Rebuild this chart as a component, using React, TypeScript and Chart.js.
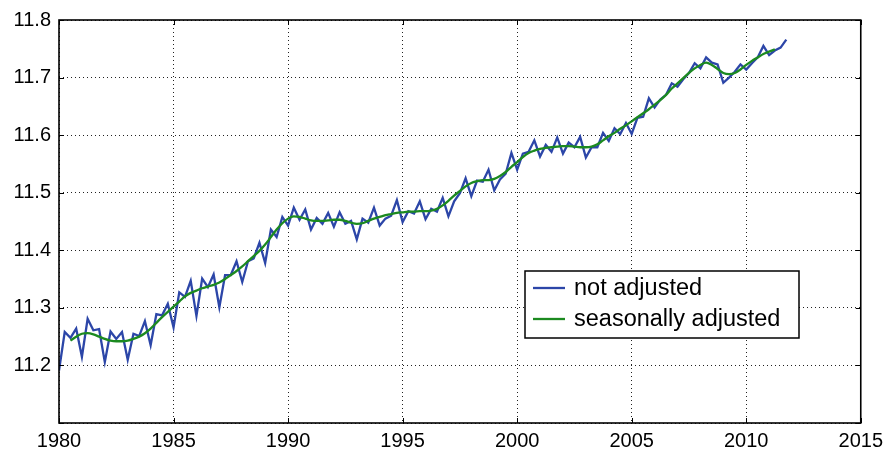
import React, { useEffect, useRef } from "react";
import { Chart, registerables } from "chart.js";

Chart.register(...registerables);

const START_YEAR = 1980;
const GREEN_START_YEAR = 1980.5;
const X_TICKS = [1980, 1985, 1990, 1995, 2000, 2005, 2010, 2015];
const Y_TICKS = [11.1, 11.2, 11.3, 11.4, 11.5, 11.6, 11.7, 11.8];

// quarterly, not adjusted (1980 Q1 .. 2011 Q4)
const notAdjusted = [
  11.191, 11.258, 11.248, 11.264,
  11.215, 11.281, 11.261, 11.263,
  11.206, 11.259, 11.246, 11.258,
  11.210, 11.255, 11.251, 11.277,
  11.235, 11.289, 11.287, 11.307,
  11.266, 11.327, 11.319, 11.347,
  11.286, 11.351, 11.336, 11.358,
  11.301, 11.357, 11.357, 11.381,
  11.345, 11.381, 11.386, 11.413,
  11.378, 11.436, 11.423, 11.458,
  11.443, 11.474, 11.453, 11.471,
  11.436, 11.456, 11.446, 11.465,
  11.441, 11.466, 11.446, 11.451,
  11.419, 11.455, 11.448, 11.474,
  11.443, 11.455, 11.460, 11.487,
  11.449, 11.468, 11.464, 11.485,
  11.454, 11.472, 11.467, 11.491,
  11.459, 11.485, 11.499, 11.525,
  11.494, 11.521, 11.519, 11.540,
  11.504, 11.523, 11.533, 11.569,
  11.540, 11.568, 11.571, 11.591,
  11.563, 11.583, 11.571, 11.596,
  11.568, 11.587, 11.579, 11.597,
  11.561, 11.579, 11.579, 11.604,
  11.590, 11.612, 11.602, 11.621,
  11.602, 11.630, 11.632, 11.664,
  11.648, 11.662, 11.670, 11.690,
  11.684, 11.697, 11.708, 11.725,
  11.716, 11.735, 11.726, 11.723,
  11.691, 11.700, 11.710, 11.723,
  11.714, 11.725, 11.735, 11.755,
  11.739, 11.747, 11.752, 11.766,
];

// quarterly, seasonally adjusted (1980 Q3 .. 2011 Q2)
const seasonallyAdjusted = [
  11.243, 11.250,
  11.255, 11.256, 11.254, 11.250,
  11.246, 11.243, 11.242, 11.242,
  11.243, 11.246, 11.250, 11.256,
  11.264, 11.274, 11.284, 11.293,
  11.302, 11.311, 11.320, 11.326,
  11.330, 11.334, 11.337, 11.340,
  11.344, 11.350, 11.357, 11.364,
  11.372, 11.381, 11.390, 11.399,
  11.410, 11.423, 11.436, 11.447,
  11.455, 11.459, 11.458, 11.455,
  11.452, 11.451, 11.451, 11.452,
  11.453, 11.453, 11.451, 11.448,
  11.446, 11.447, 11.451, 11.455,
  11.458, 11.461, 11.463, 11.465,
  11.466, 11.467, 11.467, 11.468,
  11.468, 11.469, 11.472, 11.478,
  11.486, 11.495, 11.503, 11.511,
  11.517, 11.520, 11.522, 11.522,
  11.524, 11.529, 11.536, 11.545,
  11.553, 11.562, 11.569, 11.573,
  11.576, 11.578, 11.579, 11.580,
  11.581, 11.581, 11.580, 11.579,
  11.579, 11.580, 11.584, 11.591,
  11.598, 11.604, 11.611, 11.617,
  11.624, 11.631, 11.638, 11.645,
  11.653, 11.661, 11.670, 11.681,
  11.690, 11.699, 11.708, 11.716,
  11.722, 11.726, 11.722, 11.715,
  11.708, 11.706, 11.708, 11.714,
  11.722, 11.729, 11.735, 11.741,
  11.745, 11.749,
];

const LABELS = ["not adjusted", "seasonally adjusted"];
const BLUE = "rgb(44,70,168)";
const GREEN = "rgb(28,138,32)";
const FONT = '"Liberation Sans", Arial, Helvetica, sans-serif';

const toPoints = (start: number, vals: number[]) =>
  vals.map((v, i) => ({ x: start + i * 0.25, y: v }));

const framePlugin = {
  id: "frameAndLegend",
  afterDatasetsDraw(chart: any) {
    const { ctx, chartArea: a, scales } = chart;
    const x = scales.x;
    const y = scales.y;
    ctx.save();
    // inward tick marks
    ctx.strokeStyle = "#000";
    ctx.lineWidth = 1;
    const tl = 5;
    X_TICKS.forEach((t) => {
      const px = Math.round(x.getPixelForValue(t)) + 0.5;
      ctx.beginPath();
      ctx.moveTo(px, a.bottom);
      ctx.lineTo(px, a.bottom - tl);
      ctx.moveTo(px, a.top);
      ctx.lineTo(px, a.top + tl);
      ctx.stroke();
    });
    Y_TICKS.forEach((t) => {
      const py = Math.round(y.getPixelForValue(t)) + 0.5;
      ctx.beginPath();
      ctx.moveTo(a.left, py);
      ctx.lineTo(a.left + tl, py);
      ctx.moveTo(a.right, py);
      ctx.lineTo(a.right - tl, py);
      ctx.stroke();
    });
    // frame
    ctx.lineWidth = 1.6;
    ctx.strokeRect(a.left, a.top, a.right - a.left, a.bottom - a.top);

    // legend box
    const lx = a.left + 466;
    const ly = a.top + 251;
    const lw = 274;
    const lh = 67;
    ctx.fillStyle = "#fff";
    ctx.fillRect(lx, ly, lw, lh);
    ctx.lineWidth = 1.5;
    ctx.strokeStyle = "#000";
    ctx.strokeRect(lx, ly, lw, lh);
    const rows = [
      { label: LABELS[0], color: BLUE, yy: ly + 17 },
      { label: LABELS[1], color: GREEN, yy: ly + 48 },
    ];
    ctx.font = "23.5px " + FONT;
    ctx.textBaseline = "middle";
    ctx.textAlign = "left";
    rows.forEach((r) => {
      ctx.strokeStyle = r.color;
      ctx.lineWidth = 2.3;
      ctx.beginPath();
      ctx.moveTo(lx + 8, r.yy);
      ctx.lineTo(lx + 40, r.yy);
      ctx.stroke();
      ctx.fillStyle = "#000";
      ctx.fillText(r.label, lx + 49, r.yy + 1);
    });
    ctx.restore();
  },
};

export default function App() {
  const ref = useRef<HTMLCanvasElement | null>(null);

  useEffect(() => {
    document.body.style.margin = "0";
    const canvas = ref.current;
    if (!canvas) return;
    const chart = new Chart(canvas, {
      type: "line",
      data: {
        datasets: [
          {
            label: LABELS[1],
            data: toPoints(GREEN_START_YEAR, seasonallyAdjusted),
            borderColor: GREEN,
            borderWidth: 2.3,
            pointRadius: 0,
            tension: 0.4,
            cubicInterpolationMode: "monotone",
            fill: false,
            order: 0,
          },
          {
            label: LABELS[0],
            data: toPoints(START_YEAR, notAdjusted),
            borderColor: BLUE,
            borderWidth: 2.3,
            pointRadius: 0,
            tension: 0,
            fill: false,
            order: 1,
          },
        ],
      },
      options: {
        responsive: false,
        animation: false,
        devicePixelRatio: 1,
        layout: { padding: { left: 0, top: 20, right: 26, bottom: 0 } },
        plugins: {
          legend: { display: false },
          tooltip: { enabled: false },
        },
        scales: {
          x: {
            type: "linear",
            min: 1980,
            max: 2015,
            afterFit: (s: any) => {
              s.height = 29;
            },
            afterBuildTicks: (s: any) => {
              s.ticks = X_TICKS.map((v) => ({ value: v }));
            },
            ticks: {
              color: "#000",
              font: { family: FONT, size: 20 },
              padding: 6,
              maxRotation: 0,
              callback: (v: any) => String(v),
            },
            grid: { color: "#222", lineWidth: 1, drawTicks: false },
            border: { display: false, dash: [1, 3] },
          },
          y: {
            type: "linear",
            min: 11.1,
            max: 11.8,
            afterFit: (s: any) => {
              s.width = 59;
            },
            afterBuildTicks: (s: any) => {
              s.ticks = Y_TICKS.map((v) => ({ value: v }));
            },
            ticks: {
              color: "#000",
              font: { family: FONT, size: 20 },
              padding: 8,
              callback: (v: any) =>
                Math.abs(Number(v) - 11.1) < 1e-6 ? "" : Number(v).toFixed(1),
            },
            grid: { color: "#222", lineWidth: 1, drawTicks: false },
            border: { display: false, dash: [1, 3] },
          },
        },
      },
      plugins: [framePlugin],
    } as any);
    return () => chart.destroy();
  }, []);

  return (
    <div style={{ width: 889, height: 452, background: "#fff" }}>
      <canvas ref={ref} width={889} height={452} style={{ display: "block" }} />
    </div>
  );
}
